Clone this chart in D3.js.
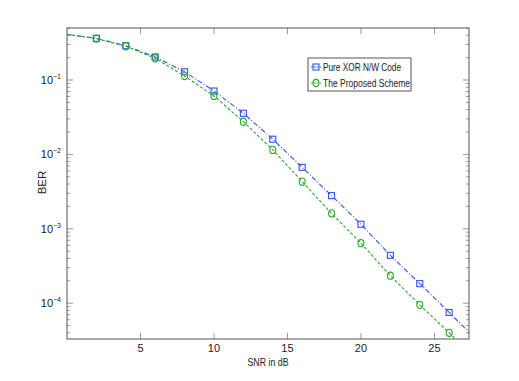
<!DOCTYPE html>
<html>
<head>
<meta charset="utf-8">
<script src="https://cdn.jsdelivr.net/npm/d3@7"></script>
<style>
  body { margin: 0; background: #fff; }
  text { font-family: "Liberation Sans", Arial, sans-serif; fill: #222; }
</style>
</head>
<body>
<div id="chart"></div>
<script>
// SNR (dB) points and BER of each scheme
var snr = [0, 2, 4, 6, 8, 10, 12, 14, 16, 18, 20, 22, 24, 26, 28];
var berXor = [0.41, 0.363, 0.289, 0.204, 0.129, 0.0711, 0.0357, 0.0160, 0.0067, 0.00279, 0.00115, 0.00044, 0.000183, 0.000075, 0.0000305];
var berProposed = [0.41, 0.360, 0.284, 0.196, 0.113, 0.061, 0.0275, 0.0115, 0.0043, 0.00161, 0.00064, 0.000234, 0.000095, 0.000040, 0.0000166];
var seriesNames = ["Pure XOR N/W Code", "The Proposed Scheme"];
var xTicks = [5, 10, 15, 20, 25];
var yTicks = [1e-4, 1e-3, 1e-2, 1e-1];

var width = 519, height = 381,
  margin = {left: 67, right: 50, top: 28, bottom: 42},
  w = width - margin.left - margin.right,
  h = height - margin.top - margin.bottom;

var svg = d3.select("#chart").append("svg")
  .attr("width", width).attr("height", height);
var chart = svg.append("g")
  .attr("transform", "translate(" + margin.left + "," + margin.top + ")");

var x = d3.scaleLinear().domain([0, 27.35]).range([0, w]);
var y = d3.scaleLog().domain([3.3e-5, 0.5]).range([h, 0]);

chart.append("clipPath").attr("id", "clip")
  .append("rect").attr("width", w).attr("height", h);

// minor log ticks on left and right
var minor = [];
for (var e = -5; e <= -1; e++) {
  for (var m = 2; m <= 9; m++) {
    var v = m * Math.pow(10, e);
    if (v >= y.domain()[0] && v <= y.domain()[1]) minor.push(v);
  }
}
var axisColor = "#555";
minor.forEach(function (v) {
  [[0, 3], [w, w - 3]].forEach(function (p) {
    chart.append("line").attr("x1", p[0]).attr("x2", p[1])
      .attr("y1", y(v)).attr("y2", y(v))
      .attr("stroke", "#999").attr("stroke-width", 1);
  });
});
yTicks.forEach(function (v) {
  [[0, 6], [w, w - 6]].forEach(function (p) {
    chart.append("line").attr("x1", p[0]).attr("x2", p[1])
      .attr("y1", y(v)).attr("y2", y(v))
      .attr("stroke", "#999").attr("stroke-width", 1);
  });
  var t = chart.append("text").attr("x", -6).attr("y", y(v) + 4)
    .attr("text-anchor", "end").style("font-size", "11px");
  t.append("tspan").text("10");
  t.append("tspan").attr("dy", -5).style("font-size", "7px").text(String(Math.log10(v)).replace("-", "\u2212"));
});
xTicks.forEach(function (v) {
  [[h, h - 6], [0, 6]].forEach(function (p) {
    chart.append("line").attr("x1", x(v)).attr("x2", x(v))
      .attr("y1", p[0]).attr("y2", p[1])
      .attr("stroke", "#999").attr("stroke-width", 1);
  });
  chart.append("text").attr("x", x(v)).attr("y", h + 13)
    .attr("text-anchor", "middle").style("font-size", "11px").text(v);
});

chart.append("rect").attr("width", w).attr("height", h)
  .attr("fill", "none").attr("stroke", axisColor).attr("stroke-width", 1);

chart.append("text").attr("x", w / 2).attr("y", h + 27)
  .attr("text-anchor", "middle").style("font-size", "11.5px")
  .attr("textLength", 41).attr("lengthAdjust", "spacingAndGlyphs").text("SNR in dB");
chart.append("text")
  .attr("transform", "translate(" + (-21) + "," + (h / 2 - 1) + ") rotate(-90)")
  .attr("text-anchor", "middle").style("font-size", "11.5px").text("BER");

var colors = ["#3050f0", "#2aa82a"];
var dashes = ["5,2,1,2", "3,2"];
var data = [berXor, berProposed];

var line = d3.line()
  .x(function (d) { return x(d[0]); })
  .y(function (d) { return y(d[1]); });

var plot = chart.append("g").attr("clip-path", "url(#clip)");

function marker(g, i, cx, cy) {
  if (i === 0) {
    g.append("rect").attr("x", cx - 3).attr("y", cy - 3)
      .attr("width", 6).attr("height", 6)
      .attr("fill", "none").attr("stroke", colors[i]).attr("stroke-width", 1.1);
  } else {
    g.append("ellipse").attr("cx", cx).attr("cy", cy).attr("rx", 3).attr("ry", 3.6)
      .attr("fill", "none").attr("stroke", colors[i]).attr("stroke-width", 1.1);
  }
}

data.forEach(function (ber, i) {
  var pts = snr.map(function (s, k) { return [s, ber[k]]; });
  plot.append("path").datum(pts)
    .attr("d", line)
    .attr("fill", "none")
    .attr("stroke", colors[i])
    .attr("stroke-width", 1.1)
    .attr("stroke-dasharray", dashes[i]);
  pts.forEach(function (p) {
    if (p[0] > 0 && p[0] < 27) marker(plot, i, x(p[0]), y(p[1]));
  });
});

// legend
var legendLen = [78, 87];
var lg = svg.append("g").attr("transform", "translate(308,58)");
lg.append("rect").attr("width", 103).attr("height", 33)
  .attr("fill", "#fff").attr("stroke", axisColor).attr("stroke-width", 1);
seriesNames.forEach(function (n, i) {
  var yy = 9 + i * 16;
  lg.append("line").attr("x1", 3).attr("x2", 13).attr("y1", yy).attr("y2", yy)
    .attr("stroke", colors[i]).attr("stroke-width", 1.1).attr("stroke-dasharray", "2,1");
  marker(lg, i, 8, yy);
  lg.append("text").attr("x", 15).attr("y", yy + 4)
    .style("font-size", "11px")
    .attr("textLength", legendLen[i]).attr("lengthAdjust", "spacingAndGlyphs")
    .text(n);
});
</script>
</body>
</html>
